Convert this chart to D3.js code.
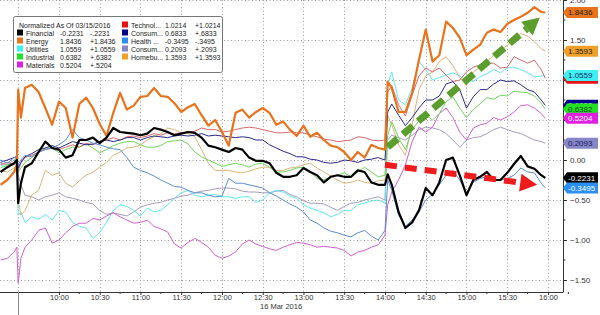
<!DOCTYPE html>
<html>
<head>
<meta charset="utf-8">
<script src="https://cdn.jsdelivr.net/npm/d3@7"></script>
<style>
body { margin: 0; background: #fff; }
svg text { font-family: "Liberation Sans", Arial, sans-serif; }
</style>
</head>
<body>
<div id="chart"></div>
<script>
// intraday sector moves, normalized as of 03/15/2016 close
const times = ["09:17","09:22","09:27","09:29","09:30","09:32","09:35","09:40","09:45","09:50","09:55",
  "10:00","10:05","10:10","10:15","10:20","10:25","10:30","10:35","10:40","10:45","10:50","10:55",
  "11:00","11:05","11:10","11:15","11:20","11:25","11:30","11:35","11:40","11:45","11:50","11:55",
  "12:00","12:05","12:10","12:15","12:20","12:25","12:30","12:35","12:40","12:45","12:50","12:55",
  "13:00","13:05","13:10","13:15","13:20","13:25","13:30","13:35","13:40","13:45","13:50","13:55",
  "14:00","14:02","14:05","14:10","14:15","14:20","14:25","14:30","14:35","14:40","14:45","14:50","14:55",
  "15:00","15:05","15:10","15:15","15:20","15:25","15:30","15:35","15:40","15:45","15:50","15:55","15:58"];

const financial = [-0.15,-0.09,-0.04,0.00,-0.54,-0.29,-0.09,-0.04,0.10,0.23,
  0.15,0.13,0.03,0.06,0.25,0.25,0.28,0.21,0.28,0.40,
  0.35,0.34,0.33,0.31,0.33,0.40,0.38,0.35,0.31,0.33,
  0.35,0.34,0.28,0.18,0.16,0.13,0.10,0.15,0.13,0.03,
  -0.01,-0.01,-0.04,-0.16,-0.21,-0.21,-0.19,-0.10,-0.15,-0.19,
  -0.28,-0.21,-0.19,-0.21,-0.21,-0.13,-0.15,-0.28,-0.31,-0.31,
  -0.18,-0.31,-0.65,-0.85,-0.78,-0.63,-0.35,-0.44,-0.28,0.00,
  0.03,-0.19,-0.44,-0.25,-0.21,-0.15,-0.25,-0.25,-0.16,-0.05,
  0.05,-0.08,-0.11,-0.19,-0.2231];

const energy = [-0.31,-0.25,-0.15,-0.06,0.88,0.53,0.90,0.94,0.85,0.65,
  0.44,0.73,0.65,0.28,0.70,0.78,0.65,0.45,0.30,0.59,
  0.84,0.63,0.68,0.79,0.80,0.90,0.80,0.79,0.71,0.60,
  0.66,0.70,0.56,0.43,0.50,0.35,0.18,0.59,0.63,0.53,
  0.60,0.65,0.59,0.44,0.48,0.38,0.30,0.43,0.29,0.34,
  0.25,0.18,0.16,0.10,0.00,0.10,0.03,0.19,0.15,0.13,
  0.98,0.90,0.60,0.60,0.84,1.25,1.63,1.23,1.31,1.73,
  1.65,1.53,1.31,1.38,1.44,1.59,1.63,1.60,1.70,1.75,
  1.79,1.84,1.91,1.85,1.8436];

const utilities = [-0.06,-0.10,-0.03,0.03,-0.69,-0.65,-0.78,-0.71,-0.74,-0.68,
  -0.75,-0.63,-0.65,-0.78,-0.83,-0.85,-0.98,-0.91,-0.78,-0.63,
  -0.56,-0.58,-0.63,-0.70,-0.60,-0.65,-0.63,-0.56,-0.48,-0.41,
  -0.38,-0.44,-0.46,-0.44,-0.43,-0.46,-0.46,-0.48,-0.46,-0.46,
  -0.53,-0.50,-0.41,-0.38,-0.40,-0.45,-0.48,-0.56,-0.60,-0.63,
  -0.66,-0.71,-0.68,-0.63,-0.63,-0.56,-0.54,-0.51,-0.50,-0.54,
  0.94,1.10,0.75,0.69,0.90,1.23,1.13,1.00,1.03,1.06,
  1.09,1.05,1.00,0.98,1.04,1.08,1.13,1.09,1.15,1.16,
  1.13,1.09,1.04,1.05,1.0559];

const industrial = [-0.10,-0.06,-0.04,0.00,-0.15,-0.10,-0.03,0.03,0.09,0.15,
  0.15,0.09,0.13,0.16,0.16,0.20,0.15,0.09,0.13,0.18,
  0.21,0.23,0.23,0.19,0.16,0.16,0.18,0.23,0.24,0.25,
  0.20,0.10,0.04,0.00,-0.04,-0.08,-0.06,-0.04,-0.06,-0.09,
  -0.05,-0.04,-0.09,-0.15,-0.15,-0.13,-0.10,-0.09,-0.15,-0.23,
  -0.25,-0.21,-0.19,-0.16,-0.21,-0.15,-0.09,-0.15,-0.21,-0.19,
  0.31,0.48,0.28,0.13,0.38,0.49,0.56,0.50,0.58,0.73,
  0.79,0.65,0.53,0.63,0.70,0.78,0.76,0.81,0.80,0.86,
  0.85,0.84,0.80,0.71,0.6382];

const materials = [-1.25,-1.23,-1.15,-1.09,-1.54,-1.23,-1.09,-1.00,-0.88,-0.85,
  -1.04,-1.00,-0.91,-0.83,-0.79,-0.79,-0.73,-0.75,-0.70,-0.66,
  -0.71,-0.75,-0.79,-0.78,-0.75,-0.83,-0.86,-0.90,-1.05,-1.10,
  -1.03,-0.98,-1.03,-1.09,-1.19,-1.23,-1.20,-1.15,-1.05,-1.00,
  -1.05,-1.08,-1.11,-1.13,-1.09,-1.06,-1.03,-1.04,-1.06,-1.09,
  -1.08,-1.09,-1.10,-1.13,-1.20,-1.15,-1.13,-1.09,-1.06,-0.94,
  -0.56,-0.40,-0.25,-0.06,0.23,0.41,0.35,0.41,0.58,0.65,
  0.53,0.35,0.25,0.40,0.44,0.46,0.53,0.50,0.54,0.60,
  0.68,0.69,0.65,0.58,0.5204];

const technology = [-0.06,-0.03,-0.06,0.00,-0.13,-0.04,0.03,0.06,0.10,0.13,
  0.15,0.13,0.16,0.19,0.16,0.21,0.19,0.23,0.25,0.28,
  0.25,0.29,0.30,0.28,0.30,0.33,0.31,0.34,0.33,0.34,
  0.35,0.36,0.40,0.38,0.38,0.35,0.36,0.38,0.40,0.41,
  0.40,0.38,0.36,0.34,0.34,0.35,0.34,0.34,0.31,0.29,
  0.26,0.25,0.23,0.24,0.25,0.29,0.28,0.25,0.24,0.25,
  0.85,0.93,0.69,0.55,0.81,1.05,1.15,1.10,1.15,1.06,
  0.98,1.00,1.10,1.16,1.19,1.21,1.21,1.15,1.16,1.29,
  1.25,1.21,1.25,1.13,1.0214];

const consumerStaples = [-0.03,0.00,0.03,0.04,-0.10,-0.03,0.04,0.08,0.13,0.15,
  0.18,0.15,0.19,0.23,0.21,0.19,0.20,0.23,0.25,0.23,
  0.25,0.28,0.28,0.25,0.28,0.30,0.29,0.28,0.30,0.31,
  0.30,0.31,0.33,0.30,0.31,0.30,0.29,0.28,0.29,0.28,
  0.25,0.25,0.19,0.15,0.11,0.08,0.04,0.04,0.01,0.00,
  -0.03,-0.04,-0.03,0.00,-0.01,-0.03,0.00,0.01,0.03,0.00,
  0.60,0.70,0.56,0.43,0.53,0.65,0.75,0.75,0.80,0.95,
  0.98,0.88,0.65,0.79,0.88,0.88,0.95,1.00,0.98,0.99,
  0.94,0.88,0.85,0.75,0.6833];

const health = [0.00,-0.04,0.03,0.05,-0.06,0.00,0.06,0.04,0.10,0.13,
  0.15,0.19,0.25,0.38,0.28,0.25,0.21,0.19,0.16,0.14,
  0.13,0.03,-0.09,-0.13,-0.16,-0.20,-0.25,-0.29,-0.33,-0.34,
  -0.38,-0.41,-0.41,-0.44,-0.46,-0.45,-0.23,-0.29,-0.29,-0.31,
  -0.33,-0.35,-0.41,-0.45,-0.50,-0.55,-0.59,-0.65,-0.75,-0.79,
  -0.85,-0.89,-0.91,-0.94,-0.96,-0.91,-0.88,-0.95,-1.00,-0.88,
  -0.25,-0.38,-0.69,-0.83,-0.75,-0.65,-0.50,-0.43,-0.31,-0.19,
  -0.13,-0.25,-0.41,-0.28,-0.23,-0.21,-0.24,-0.25,-0.23,-0.19,
  -0.10,-0.15,-0.16,-0.29,-0.3495];

const consumerDisc = [-0.04,-0.06,0.00,0.03,-0.19,-0.31,-0.44,-0.46,-0.50,-0.46,
  -0.44,-0.41,-0.46,-0.48,-0.50,-0.53,-0.55,-0.63,-0.68,-0.66,
  -0.68,-0.70,-0.65,-0.59,-0.56,-0.54,-0.53,-0.50,-0.48,-0.45,
  -0.44,-0.41,-0.39,-0.38,-0.36,-0.35,-0.35,-0.36,-0.39,-0.40,
  -0.40,-0.41,-0.41,-0.39,-0.38,-0.43,-0.46,-0.51,-0.54,-0.54,
  -0.55,-0.59,-0.63,-0.58,-0.54,-0.53,-0.50,-0.48,-0.46,-0.50,
  0.25,0.31,0.28,0.25,0.31,0.38,0.41,0.40,0.38,0.33,
  0.25,0.16,0.25,0.28,0.29,0.33,0.38,0.41,0.38,0.35,
  0.33,0.29,0.25,0.23,0.2093];

const homebuilders = [-0.13,-0.15,-0.10,-0.06,-0.50,-0.69,-0.63,-0.44,-0.38,-0.13,
  -0.19,-0.16,-0.29,-0.34,-0.26,-0.19,-0.15,-0.09,-0.03,0.06,
  0.10,0.15,0.16,0.19,0.25,0.29,0.33,0.40,0.38,0.34,
  0.33,0.29,0.13,-0.04,-0.13,-0.13,-0.13,-0.15,-0.16,-0.14,
  -0.11,-0.09,-0.09,-0.13,-0.13,-0.10,-0.09,-0.06,-0.04,-0.10,
  -0.15,-0.20,-0.25,-0.29,-0.28,-0.25,-0.28,-0.29,-0.26,-0.25,
  0.56,0.44,0.19,0.06,0.44,0.88,1.05,1.10,1.23,1.29,
  1.18,1.03,0.93,1.10,1.16,1.23,1.31,1.38,1.43,1.53,
  1.58,1.55,1.48,1.39,1.3593];

// legend
const legendTitle = 'Normalized As Of 03/15/2016';
const legendNames = ['Financial', 'Energy', 'Utilities', 'Industrial', 'Materials',
  'Technol...', 'Consum...', 'Health ...', 'Consum...', 'Homebu...'];
const lastValues = [-0.2231, 1.8436, 1.0559, 0.6382, 0.5204, 1.0214, 0.6833, -0.3495, 0.2093, 1.3593];

const xTickTimes = ['10:00','10:30','11:00','11:30','12:00','12:30','13:00','13:30','14:00','14:30','15:00','15:30','16:00'];
const yTickValues = [-1.5, -1, -0.5, 0, 0.5, 1, 1.5, 2];
const dateLabel = '16 Mar 2016';
const footnote = 'Instrument List: S5FINL SPTR 2011  Financial S5ENRS SPTR 2011  Energy S5UTIL SPTR 2011  Utilities 16 03 2014 - 1313  S5INDU SPTR 2011  S5MATR SPTR 2011';

// styles, same order as legendNames
const lineColors = ['#000000', '#e8731c', '#5fe8ee', '#6ed65a', '#cf5fd0', '#d86a6a', '#2a2a88', '#5a8ccc', '#a79cba', '#dbb57a'];
const boxColors = ['#000000', '#e8731c', '#3ff0f0', '#22e022', '#e020e0', '#e81010', '#000088', '#2a8ff0', '#8585c8', '#f0a028'];
const boxText = ['#fff', '#222', '#1a2a6a', '#1a4a1a', '#fff', '#fff', '#fff', '#fff', '#1a1a5a', '#222'];
const lineWidths = [2.2, 2.2, 1, 1, 1, 1, 1, 1, 1, 1];
const seriesValues = [financial, energy, utilities, industrial, materials, technology, consumerStaples, health, consumerDisc, homebuilders];

const parseTime = d3.timeParse('%H:%M');

let chartWidth = 600,
    chartHeight = 315,
    plotRight = 563,
    plotBottom = 292;

let svg = d3.select('#chart').append('svg')
    .attr('width', chartWidth)
    .attr('height', chartHeight);

let xScale = d3.scaleTime()
    .domain([parseTime('09:30'), parseTime('16:00')])
    .range([18.2, 548]);

let yScale = d3.scaleLinear()
    .domain([-1.65, 2])
    .range([plotBottom, 0]);

svg.append('defs').append('clipPath')
    .attr('id', 'plotClip')
    .append('rect')
    .attr('x', 0).attr('y', 0)
    .attr('width', plotRight).attr('height', plotBottom);

// grid
let grid_g = svg.append('g').attr('class', 'grid');

grid_g.selectAll('.hgrid')
    .data(yTickValues)
    .join('line')
    .attr('class', 'hgrid')
    .attr('x1', 0).attr('x2', plotRight)
    .attr('y1', d => yScale(d) + 0.5).attr('y2', d => yScale(d) + 0.5)
    .attr('stroke', '#9a9a9a')
    .attr('stroke-dasharray', '1,2.5');

grid_g.selectAll('.vgrid')
    .data(['09:30'].concat(xTickTimes))
    .join('line')
    .attr('class', 'vgrid')
    .attr('x1', d => Math.round(xScale(parseTime(d))) + 0.5)
    .attr('x2', d => Math.round(xScale(parseTime(d))) + 0.5)
    .attr('y1', 0).attr('y2', plotBottom)
    .attr('stroke', '#9a9a9a')
    .attr('stroke-dasharray', '1,2.5');

// lines
let line = d3.line()
    .x((d, i) => xScale(parseTime(times[i])))
    .y(d => yScale(d));

let drawOrder = [8, 2, 4, 9, 3, 5, 6, 7, 1, 0];

let lines_g = svg.append('g')
    .attr('class', 'lines_g')
    .attr('clip-path', 'url(#plotClip)');

lines_g.selectAll('.sector')
    .data(drawOrder)
    .join('path')
    .attr('class', 'sector')
    .attr('d', i => line(seriesValues[i]))
    .attr('fill', 'none')
    .attr('stroke', i => lineColors[i])
    .attr('stroke-width', i => lineWidths[i])
    .attr('stroke-linejoin', 'round');

// annotation arrows
function drawArrow(g, from, to, color, width, dash, headLen, headHalf) {
    let x1 = xScale(parseTime(from[0])), y1 = yScale(from[1]),
        x2 = xScale(parseTime(to[0])), y2 = yScale(to[1]);
    let len = Math.hypot(x2 - x1, y2 - y1),
        ux = (x2 - x1) / len, uy = (y2 - y1) / len;
    let bx = x2 - ux * headLen, by = y2 - uy * headLen;
    g.append('line')
        .attr('x1', x1).attr('y1', y1)
        .attr('x2', bx).attr('y2', by)
        .attr('stroke', color)
        .attr('stroke-width', width)
        .attr('stroke-dasharray', dash);
    g.append('path')
        .attr('d', `M${x2},${y2}L${bx - uy * headHalf},${by + ux * headHalf}L${bx + uy * headHalf},${by - ux * headHalf}Z`)
        .attr('fill', color);
}

let arrows_g = svg.append('g').attr('class', 'arrows_g');
drawArrow(arrows_g, ['14:02', 0.16], ['15:54', 1.78], '#5c9e2e', 7, '13,7', 17, 9);
drawArrow(arrows_g, ['14:00', -0.06], ['15:52', -0.31], '#ee1c1c', 6, '12,8', 17, 9);

// x axis
let xAxis_g = svg.append('g')
    .attr('class', 'x-axis')
    .attr('transform', `translate(0, ${plotBottom})`);

xAxis_g.append('line')
    .attr('x1', 0).attr('x2', plotRight)
    .attr('y1', 0.5).attr('y2', 0.5)
    .attr('stroke', '#333');

xAxis_g.call(
        d3.axisBottom(xScale)
            .tickValues(xTickTimes.map(parseTime))
            .tickFormat(d3.timeFormat('%H:%M'))
            .tickSize(3)
            .tickSizeOuter(0)
    )
    .call(g => g.select('.domain').remove())
    .call(g => g.selectAll('.tick line').attr('stroke', '#333'))
    .selectAll('text')
    .attr('y', 3)
    .attr('fill', '#333')
    .style('font-size', '7.5px');

xAxis_g.selectAll('.minor')
    .data(d3.timeMinute.every(30).range(parseTime('09:45'), parseTime('16:01')).map(d => d3.timeMinute.offset(d, 15)))
    .join('line')
    .attr('class', 'minor')
    .attr('x1', d => xScale(d)).attr('x2', d => xScale(d))
    .attr('y1', 0).attr('y2', 2)
    .attr('stroke', '#333');

// session open marker
xAxis_g.append('line')
    .attr('x1', Math.round(xScale(parseTime('09:30'))) + 0.5)
    .attr('x2', Math.round(xScale(parseTime('09:30'))) + 0.5)
    .attr('y1', 0).attr('y2', chartHeight - plotBottom)
    .attr('stroke', '#888');

svg.append('text')
    .attr('x', xScale(parseTime('12:28')))
    .attr('y', 309)
    .attr('fill', '#333')
    .style('font-size', '7.5px')
    .text(dateLabel);

svg.append('text')
    .attr('x', 2)
    .attr('y', 320)
    .attr('fill', '#555')
    .style('font-size', '7.5px')
    .text(footnote);

// y axis on the right
let yAxis_g = svg.append('g')
    .attr('class', 'y-axis')
    .attr('transform', `translate(${plotRight}, 0)`);

yAxis_g.append('line')
    .attr('x1', 0.5).attr('x2', 0.5)
    .attr('y1', 0).attr('y2', plotBottom + 0.5)
    .attr('stroke', '#333');

yAxis_g.call(
        d3.axisRight(yScale)
            .tickValues(yTickValues)
            .tickFormat(d3.format('.2f'))
            .tickSize(4)
            .tickSizeOuter(0)
    )
    .call(g => g.select('.domain').remove())
    .call(g => g.selectAll('.tick line').attr('stroke', '#333'))
    .selectAll('text')
    .attr('fill', '#333')
    .style('font-size', '8px');

yAxis_g.selectAll('.minor')
    .data(d3.range(-1.25, 2, 0.5))
    .join('line')
    .attr('class', 'minor')
    .attr('x1', 0).attr('x2', 2.5)
    .attr('y1', d => yScale(d)).attr('y2', d => yScale(d))
    .attr('stroke', '#333');

// last value tags
let tagOrder = [5, 6, 1, 9, 2, 3, 4, 8, 0, 7];
let tags_g = svg.append('g').attr('class', 'tags_g');

let tags = tags_g.selectAll('.tag')
    .data(tagOrder)
    .join('g')
    .attr('class', 'tag')
    .attr('transform', i => `translate(${plotRight}, ${yScale(lastValues[i])})`);

tags.append('path')
    .attr('d', 'M0,0L4,-5.5L35,-5.5L35,5.5L4,5.5Z')
    .attr('fill', i => boxColors[i]);

tags.append('text')
    .attr('x', 5)
    .attr('dy', '0.35em')
    .attr('fill', i => boxText[i])
    .style('font-size', '8px')
    .text(i => lastValues[i].toFixed(4));

// legend
function changeText(v) {
    let s = Math.abs(v).toFixed(4).replace(/^0/, '');
    return (v < 0 ? '-' : '+') + s;
}

let legend_g = svg.append('g').attr('class', 'legend_g');

legend_g.append('rect')
    .attr('x', 13.5).attr('y', 16.5)
    .attr('width', 209).attr('height', 56)
    .attr('rx', 2)
    .attr('fill', '#fff')
    .attr('stroke', '#777');

legend_g.append('text')
    .attr('x', 19).attr('y', 27.5)
    .attr('fill', '#222')
    .style('font-size', '7px')
    .text(legendTitle);

let legendRows = legend_g.selectAll('.row')
    .data(d3.range(legendNames.length))
    .join('g')
    .attr('class', 'row')
    .attr('transform', i => i < 5
        ? `translate(17, ${35.5 + i * 8})`
        : `translate(122, ${27.5 + (i - 5) * 8})`);

legendRows.append('rect')
    .attr('x', 0).attr('y', -6)
    .attr('width', 6).attr('height', 6)
    .attr('fill', i => boxColors[i]);

legendRows.append('text')
    .attr('x', 9)
    .attr('fill', '#222')
    .style('font-size', '7px')
    .text(i => legendNames[i]);

legendRows.append('text')
    .attr('x', i => i < 5 ? 43 : 43)
    .attr('fill', '#222')
    .style('font-size', '7px')
    .text(i => lastValues[i].toFixed(4));

legendRows.append('text')
    .attr('x', 73)
    .attr('fill', '#222')
    .style('font-size', '7px')
    .text(i => changeText(lastValues[i]));
</script>
</body>
</html>
